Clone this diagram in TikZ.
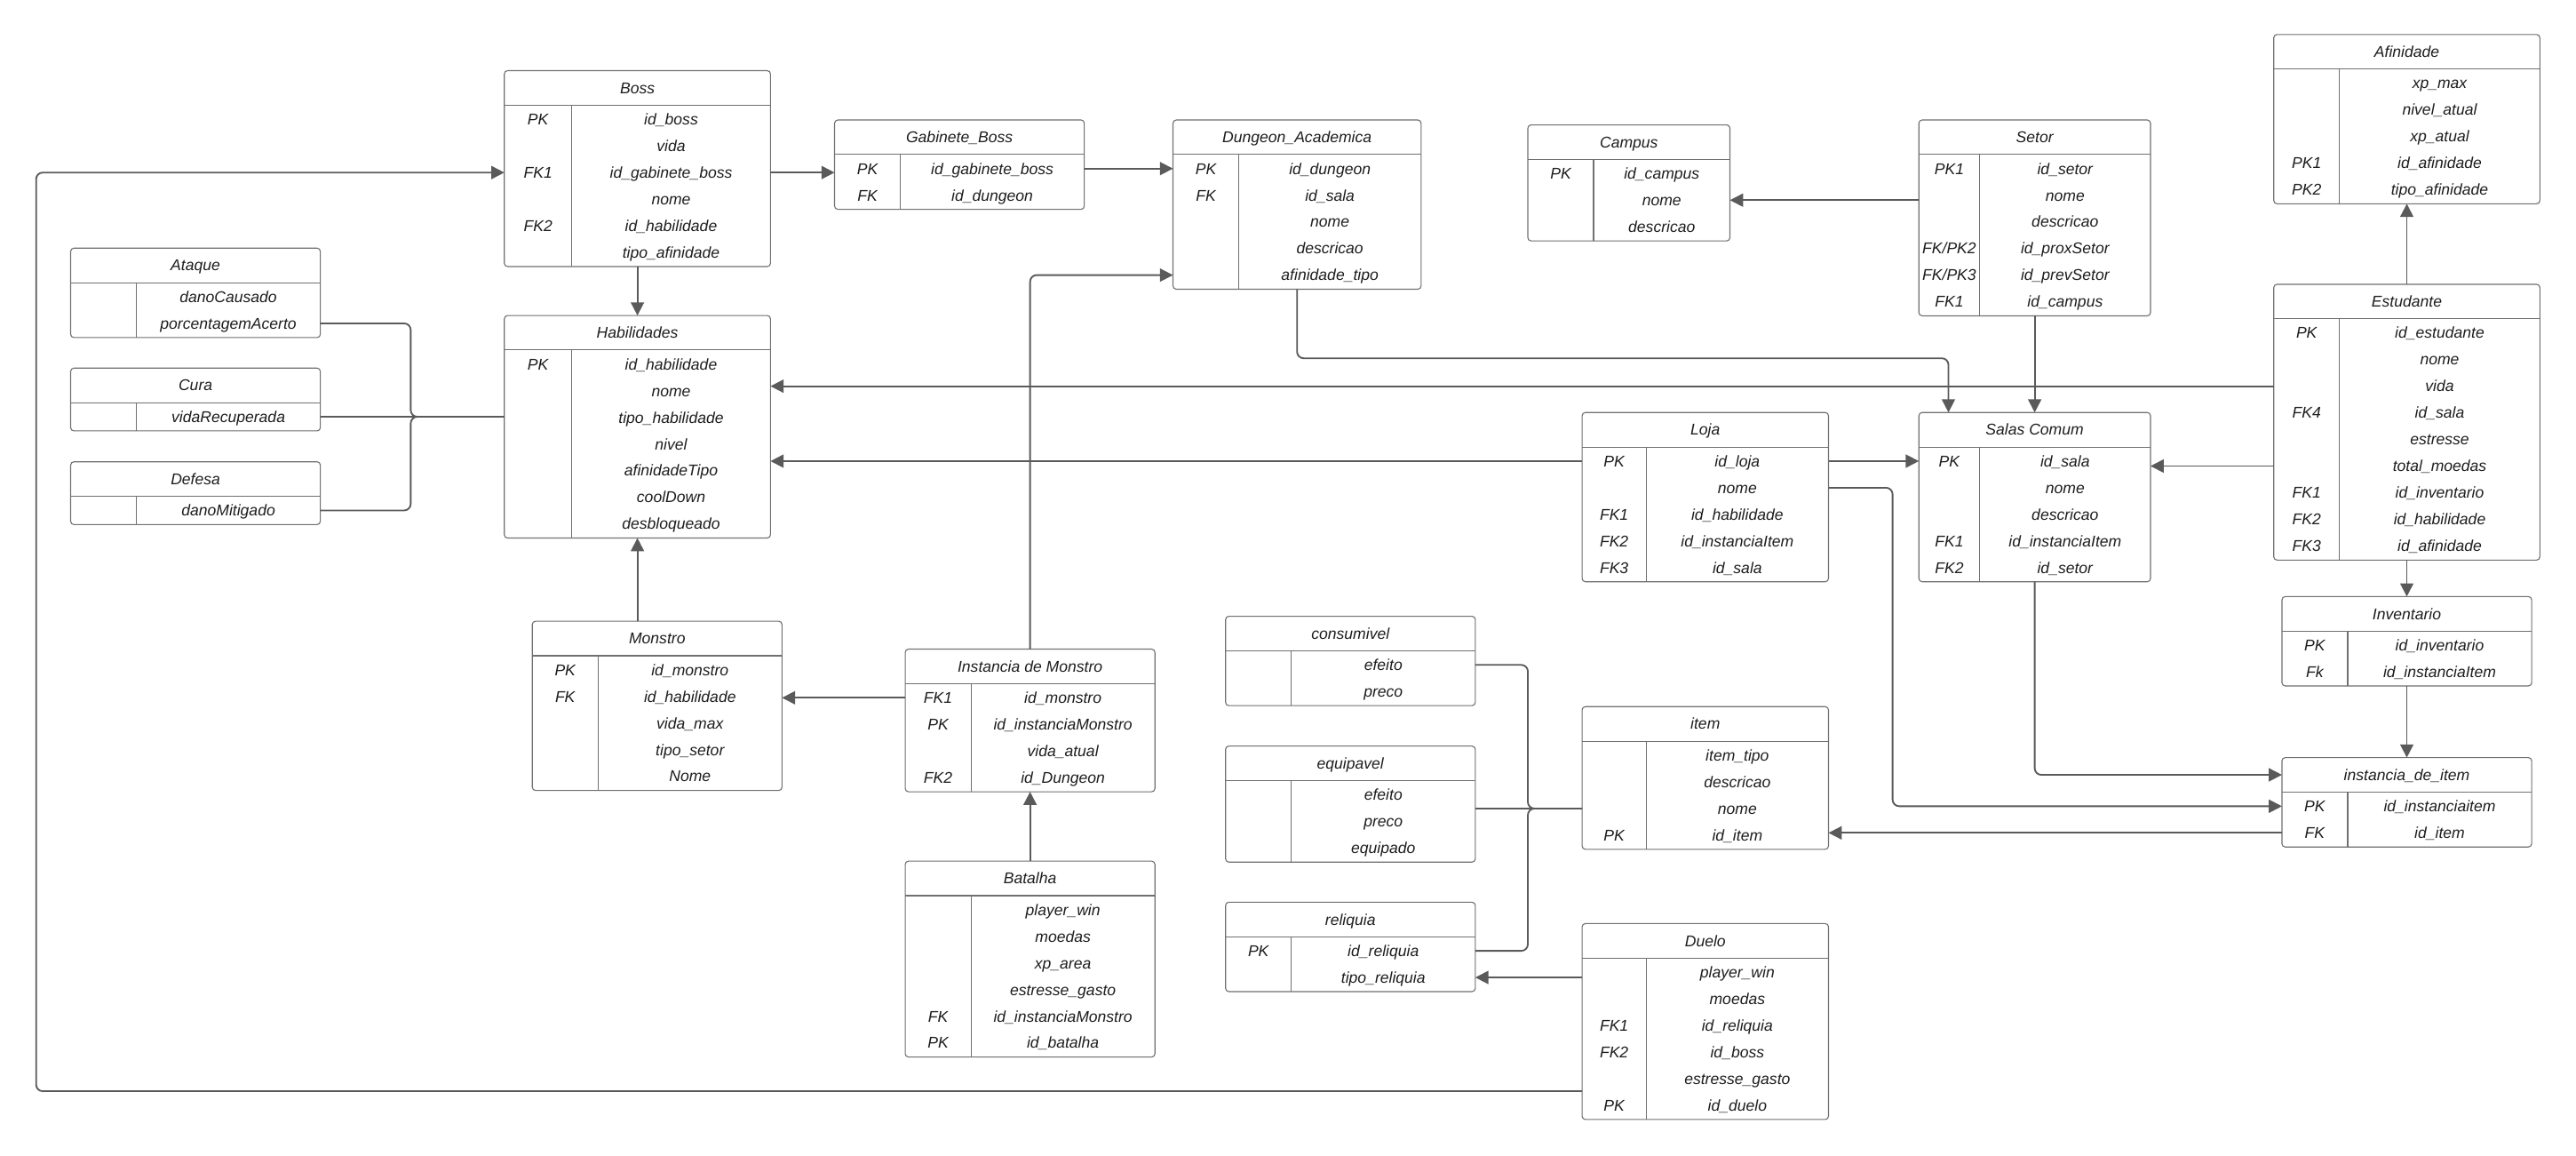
\documentclass[tikz,border=0pt]{standalone}
\usepackage{fontspec}
\setmainfont{Liberation Sans}
\usetikzlibrary{arrows.meta,calc}
\definecolor{lc}{HTML}{5A5A5A}
\definecolor{bc}{HTML}{707070}
\definecolor{tc}{HTML}{1E1E1E}
\newcommand\ersl{/}
% #1 name, #2 left x, #3 right x, #4 top y, #5 divider x, #6 rows, #7 title, #8 key/field list
\newcommand\ertab[8]{%
  \pgfmathsetmacro\ertw{#3-#2}%
  \pgfmathsetmacro\erth{22+16.2*#6}%
  \node[tbl, minimum width=\ertw pt, minimum height=\erth pt, anchor=north west] (#1) at (#2,#4) {};
  \node[txt] (#1-t) at ({(#2+#3)/2},#4+10.5) {#7};
  \draw[sep] (#2,#4+21) -- (#3,#4+21);
  \draw[sep] (#5,#4+21) -- (#5,#4+\erth);
  \foreach \k/\f [count=\i] in {#8} {
    \node[txt] (#1-k\i) at ({(#2+#5)/2},{#4+29.6+16.2*(\i-1)}) {\k};
    \node[txt] (#1-f\i) at ({(#5+#3)/2},{#4+29.6+16.2*(\i-1)}) {\f};
  }%
}
\begin{document}
\begin{tikzpicture}[x=1pt,y=-1pt,
  tbl/.style={draw=bc, line width=0.6pt, fill=white, rounded corners=2pt, inner sep=0pt, outer sep=0pt},
  sep/.style={draw=bc, line width=0.6pt},
  txt/.style={inner sep=0pt, text=tc, text height=7.4pt, text depth=0.6pt, font=\fontsize{9.5}{11}\selectfont\itshape},
  conn/.style={draw=lc, line width=1pt, rounded corners=4pt, -{Triangle[length=8pt,width=8pt]}},
  link/.style={draw=lc, line width=1pt, rounded corners=4pt}]
\fill[white] (0,0) rectangle (1568,703);
\useasboundingbox (0,0) rectangle (1568,703);

\ertab{afin}{1384}{1546}{21}{1424}{5}{Afinidade}{{}/xp\_max, {}/nivel\_atual, {}/xp\_atual, PK1/id\_afinidade, PK2/tipo\_afinidade}
\ertab{boss}{307}{469}{43}{348}{6}{Boss}{PK/id\_boss, {}/vida, FK1/id\_gabinete\_boss, {}/nome, FK2/id\_habilidade, {}/tipo\_afinidade}
\ertab{gab}{508}{660}{73}{548}{2}{Gabinete\_Boss}{PK/id\_gabinete\_boss, FK/id\_dungeon}
\ertab{dun}{714}{865}{73}{754}{5}{Dungeon\_Academica}{PK/id\_dungeon, FK/id\_sala, {}/nome, {}/descricao, {}/afinidade\_tipo}
\ertab{campus}{930}{1053}{76}{970}{3}{Campus}{PK/id\_campus, {}/nome, {}/descricao}
\ertab{setor}{1168}{1309}{73}{1205}{6}{Setor}{PK1/id\_setor, {}/nome, {}/descricao, FK\ersl PK2/id\_proxSetor, FK\ersl PK3/id\_prevSetor, FK1/id\_campus}
\ertab{est}{1384}{1546}{173}{1424}{9}{Estudante}{PK/id\_estudante, {}/nome, {}/vida, FK4/id\_sala, {}/estresse, {}/total\_moedas, FK1/id\_inventario, FK2/id\_habilidade, FK3/id\_afinidade}
\ertab{ata}{43}{195}{151}{83}{2}{Ataque}{{}/danoCausado, {}/porcentagemAcerto}
\ertab{cura}{43}{195}{224}{83}{1}{Cura}{{}/vidaRecuperada}
\ertab{def}{43}{195}{281}{83}{1}{Defesa}{{}/danoMitigado}
\ertab{hab}{307}{469}{192}{348}{7}{Habilidades}{PK/id\_habilidade, {}/nome, {}/tipo\_habilidade, {}/nivel, {}/afinidadeTipo, {}/coolDown, {}/desbloqueado}
\ertab{loja}{963}{1113}{251}{1002}{5}{Loja}{PK/id\_loja, {}/nome, FK1/id\_habilidade, FK2/id\_instanciaItem, FK3/id\_sala}
\ertab{salas}{1168}{1309}{251}{1205}{5}{Salas Comum}{PK/id\_sala, {}/nome, {}/descricao, FK1/id\_instanciaItem, FK2/id\_setor}
\ertab{mon}{324}{476}{378}{364}{5}{Monstro}{PK/id\_monstro, FK/id\_habilidade, {}/vida\_max, {}/tipo\_setor, {}/Nome}
\ertab{inst}{551}{703}{395}{591}{4}{Instancia de Monstro}{FK1/id\_monstro, PK/id\_instanciaMonstro, {}/vida\_atual, FK2/id\_Dungeon}
\ertab{bat}{551}{703}{524}{591}{6}{Batalha}{{}/player\_win, {}/moedas, {}/xp\_area, {}/estresse\_gasto, FK/id\_instanciaMonstro, PK/id\_batalha}
\ertab{cons}{746}{898}{375}{786}{2}{consumivel}{{}/efeito, {}/preco}
\ertab{equ}{746}{898}{454}{786}{3}{equipavel}{{}/efeito, {}/preco, {}/equipado}
\ertab{rel}{746}{898}{549}{786}{2}{reliquia}{PK/id\_reliquia, {}/tipo\_reliquia}
\ertab{item}{963}{1113}{430}{1002}{4}{item}{{}/item\_tipo, {}/descricao, {}/nome, PK/id\_item}
\ertab{duelo}{963}{1113}{562}{1002}{6}{Duelo}{{}/player\_win, {}/moedas, FK1/id\_reliquia, FK2/id\_boss, {}/estresse\_gasto, PK/id\_duelo}
\ertab{inv}{1389}{1541}{363}{1429}{2}{Inventario}{PK/id\_inventario, Fk/id\_instanciaItem}
\ertab{idi}{1389}{1541}{461}{1429}{2}{instancia\_de\_item}{PK/id\_instanciaitem, FK/id\_item}

% connectors
\coordinate (lpB) at (22,664);
\draw[conn] (duelo.west |- lpB) -- (lpB) -- (lpB |- boss-f3) -- (boss.west |- boss-f3);
\draw[conn] (boss.south) -- (hab.north);
\draw[conn] (boss.east |- boss-f3) -- (gab.west |- boss-f3);
\draw[conn] (gab.east |- gab-f1) -- (dun.west |- gab-f1);
\draw[conn] (inst.north) |- (dun.west |- dun-f5);
\draw[conn] (dun.south) -- ++(0,42) -| ([xshift=18pt]salas.north west);
\draw[conn] (setor.south) -- (salas.north);
\draw[conn] (setor.west |- campus-f2) -- (campus.east |- campus-f2);
\draw[conn] (est.north) -- (afin.south);
\draw[conn] (est.west |- est-f3) -- (hab.east |- est-f3);
\draw[conn] (est.west |- est-f6) -- (salas.east |- est-f6);
\draw[conn] (loja.west |- loja-f1) -- (hab.east |- loja-f1);
\draw[conn] (loja.east |- loja-f1) -- (salas.west |- loja-f1);
\draw[conn] (loja.east |- loja-f2) -- ++(39,0) |- (idi.west |- idi-f1);
\draw[conn] (salas.south) |- (idi.west |- idi-t);
\draw[conn] (est.south) -- (inv.north);
\draw[conn] (inv.south) -- (idi.north);
\draw[conn] (idi.west |- idi-f2) -- (item.east |- idi-f2);
\draw[conn] (duelo.west |- rel-f2) -- (rel.east |- rel-f2);
\draw[conn] (inst.west |- inst-f1) -- (mon.east |- inst-f1);
\draw[conn] (mon.north -| hab.south) -- (hab.south);
\draw[conn] (bat.north) -- (inst.south);

% specialisation braces
\path (cura.east |- cura-f1) ++(55,0) coordinate (bj);
\draw[link] (ata.east |- ata-f2) -| (bj) -- (hab.west |- bj);
\draw[link] (def.east |- def-f1) -| (bj) -- (hab.west |- bj);
\draw[link] (cura.east |- cura-f1) -- (hab.west |- cura-f1);
\path (equ.east |- item-f3) ++(32,0) coordinate (ij);
\draw[link] (cons.east |- cons-f1) -| (ij) -- (item.west |- ij);
\draw[link] (rel.east |- rel-f1) -| (ij) -- (item.west |- ij);
\draw[link] (equ.east |- item-f3) -- (item.west |- item-f3);
\end{tikzpicture}
\end{document}
